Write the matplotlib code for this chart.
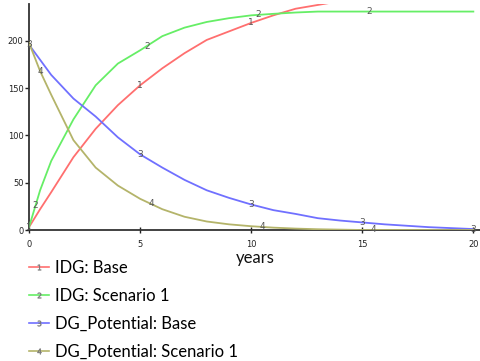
import numpy as np
import matplotlib.pyplot as plt
from matplotlib.lines import Line2D

# values
years = [0, 0.5, 1, 2, 3, 4, 5, 6, 7, 8, 9, 10, 11, 12, 13, 14, 15, 16, 17, 18, 19, 20]
idg_base = [3, 22, 40, 77, 107, 132, 153, 171, 187, 201, 210, 219, 227, 234, 238, 242,
            246, 249, 251, 253, 255, 256]
idg_scen1 = [3, 42, 73, 117, 153, 176, 190, 205, 214, 220, 224, 227, 228.6, 230, 231, 231,
             231, 231, 231, 231, 231, 231]
dg_base = [196, 180, 164, 139, 120, 98, 80, 66, 53, 42, 34, 27, 21, 17, 12.5, 10,
           8, 6, 4.5, 3, 2, 1]
dg_scen1 = [198, 168, 143, 95, 66, 47, 33, 22, 14, 9, 6, 4, 2.5, 1.5, 0.8, 0.4,
            0, 0, 0, 0, 0, 0]

series_names = ["IDG: Base", "IDG: Scenario 1", "DG_Potential: Base", "DG_Potential: Scenario 1"]
series_colors = ["#ff6f6f", "#66ee66", "#7070ff", "#b4b46a"]
label_offsets = [0.0, 0.3, 0.0, 0.5]
x_ticks = [0, 5, 10, 15, 20]
y_ticks = [0, 50, 100, 150, 200]

fig = plt.figure(figsize=(4.81, 3.61), dpi=100)
ax = fig.add_axes([29 / 481, 131 / 361, 451 / 481, 226 / 361])

all_series = [idg_base, idg_scen1, dg_base, dg_scen1]
for i, (vals, color) in enumerate(zip(all_series, series_colors)):
    ax.plot(years, vals, color=color, linewidth=1.3, zorder=3)
    # numbered markers along each line, as in the simulation tool
    for t in [label_offsets[i] + 5 * k for k in range(5)]:
        if t > 20:
            continue
        v = np.interp(t, years, vals)
        if v > 239:
            continue
        ax.text(t, v, str(i + 1), fontsize=6.5, color="#555555", ha="center",
                va="center", zorder=4)

ax.set_xlim(0, 20.3)
ax.set_ylim(0, 239)
ax.set_xticks(x_ticks)
ax.set_yticks(y_ticks)
ax.tick_params(axis="x", direction="inout", length=5, width=1, labelsize=6,
               pad=5, colors="#222222")
ax.tick_params(axis="y", direction="out", length=3, width=1, labelsize=6,
               pad=1, colors="#222222")
for side in ["top", "right"]:
    ax.spines[side].set_visible(False)
for side in ["left", "bottom"]:
    ax.spines[side].set_linewidth(1.3)
    ax.spines[side].set_color("#333333")

fig.text(255 / 481, 1 - 258 / 361, "years", fontsize=12, family="Lato",
         ha="center", va="center", color="#111111")

handles = [
    Line2D([0], [0], color=c, linewidth=1.2, marker=f"${i + 1}$", markersize=4,
           markeredgewidth=0.3, markerfacecolor="#777777", markeredgecolor="#777777")
    for i, c in enumerate(series_colors)
]
fig.legend(handles, series_names, loc="upper left", bbox_to_anchor=(14 / 481, 1 - 245 / 361),
           frameon=False, prop={"family": "Lato", "size": 12}, handlelength=1.2,
           handletextpad=0.35, labelspacing=0.72, numpoints=1)

fig.savefig("out.png", dpi=100)
